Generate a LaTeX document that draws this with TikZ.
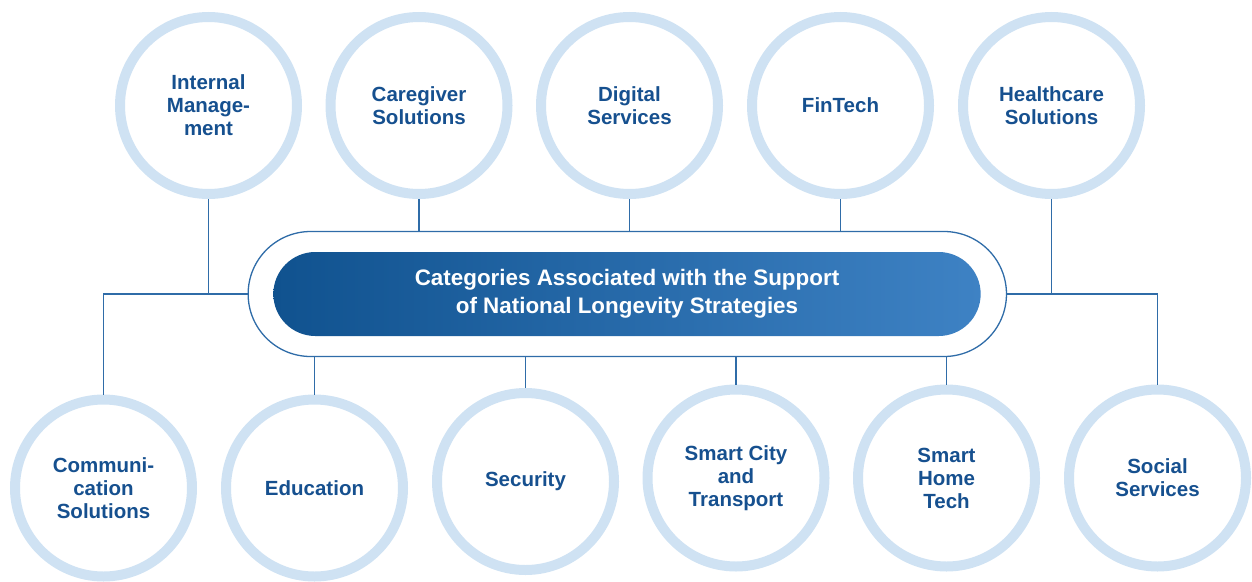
\documentclass[tikz,border=0pt]{standalone}
\usepackage{fontspec}
\setmainfont{Liberation Sans}
\usetikzlibrary{shapes.misc}
\definecolor{ringblue}{HTML}{CFE2F3}
\definecolor{textblue}{HTML}{16508F}
\definecolor{lineblue}{HTML}{2F6CA8}
\definecolor{pilldark}{HTML}{10528F}
\definecolor{pilllight}{HTML}{3E82C4}
\tikzset{
  topic/.style={circle,draw=ringblue,line width=10pt,fill=white,minimum size=177pt,
    inner sep=0pt,align=center,text=textblue,font=\bfseries\fontsize{20.5}{23}\selectfont},
  link/.style={draw=lineblue,line width=1.3pt},
}
\begin{document}
\begin{tikzpicture}[x=1pt,y=-1pt]
			\useasboundingbox (0,0) rectangle (1252,581);
			% central frame and title
			\node[rounded rectangle,draw=lineblue,line width=1.3pt,fill=white,minimum width=765pt,
			minimum height=125pt,outer sep=0pt] (pill) at (627.3,294) {};
			\node[rounded rectangle,left color=pilldark,right color=pilllight,minimum width=714pt,
			minimum height=84pt,text=white,align=center,font=\bfseries\fontsize{22.4}{28}\selectfont]
			(title) at (627,294) {Categories Associated with the Support\\of National Longevity Strategies};
			% upper row
			\node[topic] (im) at (208.5,105.5) {Internal\\Manage-\\ment};
			\node[topic] (cg) at (419,105.5) {Caregiver\\Solutions};
			\node[topic] (ds) at (629.5,105.5) {Digital\\Services};
			\node[topic] (ft) at (840.5,105.5) {FinTech};
			\node[topic] (hc) at (1051.5,105.5) {Healthcare\\Solutions};
			% lower row
			\node[topic] (cs) at (103.5,488) {Communi-\\cation\\Solutions};
			\node[topic] (ed) at (314.5,488) {Education};
			\node[topic] (se) at (525.5,481.5) {Security};
			\node[topic] (sc) at (736,478) {Smart City\\and\\Transport};
			\node[topic] (sh) at (946.5,478) {Smart\\Home\\Tech};
			\node[topic] (ss) at (1157.5,478) {Social\\Services};
			% connectors
			\draw[link] (im.south) -- (im.south |- pill.west);
			\draw[link] (pill.west) -| (cs.north);
			\draw[link] (cg.south) -- (cg.south |- pill.north);
			\draw[link] (ds.south) -- (ds.south |- pill.north);
			\draw[link] (ft.south) -- (ft.south |- pill.north);
			\draw[link] (hc.south) -- (hc.south |- pill.east);
			\draw[link] (pill.east) -| (ss.north);
			\draw[link] (ed.north) -- (ed.north |- pill.south);
			\draw[link] (se.north) -- (se.north |- pill.south);
			\draw[link] (sc.north) -- (sc.north |- pill.south);
			\draw[link] (sh.north) -- (sh.north |- pill.south);
		\end{tikzpicture}
\end{document}
